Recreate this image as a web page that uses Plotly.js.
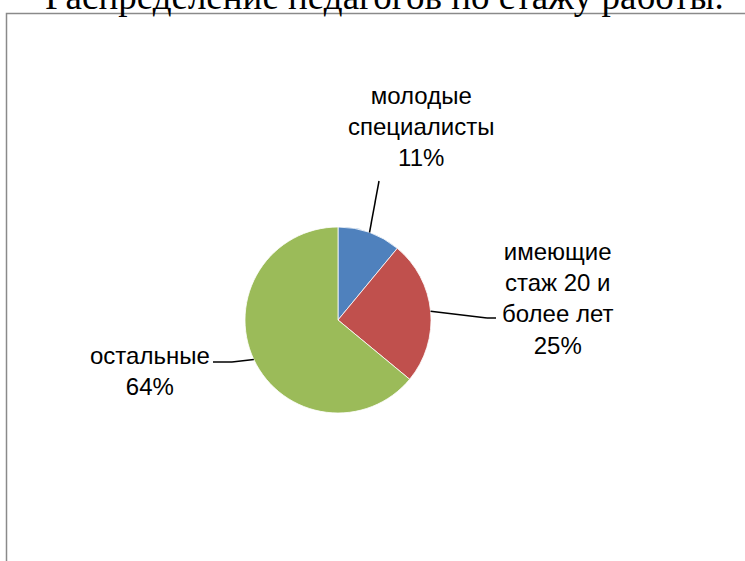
<!DOCTYPE html>
<html>
<head>
<meta charset="utf-8">
<script src="https://cdn.plot.ly/plotly-3.0.1.min.js"></script>
<style>html,body{margin:0;padding:0;background:#fff;}#chart{width:745px;height:561px;}</style>
</head>
<body>
<div id="chart"></div>
<script>
const chartTitle = "Распределение педагогов по стажу работы.";
const categories = ["молодые специалисты", "имеющие стаж 20 и более лет", "остальные"];
const labelLines = ["молодые<br>специалисты", "имеющие<br>стаж 20 и<br>более лет", "остальные"];
const values = [11, 25, 64];
const colors = ["#4F81BD", "#C0504D", "#9BBB59"];

const W = 745, H = 561;
const px = x => x / W;
const py = y => 1 - y / H;

// pie placement (pixels)
const cx = 338, cy = 320, R = 93;
const domX = [px(cx - R), px(cx + R)];
const domY = [py(cy + R), py(cy - R)];

// label centres and leader-line anchor points (pixels)
const labelPos = [[421, 127], [557, 298], [150, 371]];
const leaderPath = [
  [[379, 181]],
  [[496, 318], [487, 318]],
  [[213, 362], [232, 362]]
];

const total = values.reduce((a, b) => a + b, 0);
let cum = 0;
const annotations = [];
const shapes = [];
values.forEach((v, i) => {
  const mid = (cum + v / 2) / total;
  cum += v;
  const ang = mid * 2 * Math.PI;
  const ex = cx + R * Math.sin(ang), ey = cy - R * Math.cos(ang);
  const pct = Math.round(v / total * 100);
  annotations.push({
    xref: "paper", yref: "paper", x: px(labelPos[i][0]), y: py(labelPos[i][1]),
    xanchor: "center", yanchor: "middle", showarrow: false,
    text: labelLines[i] + "<br>" + pct + "%",
    font: {family: "Liberation Sans, Arial, sans-serif", size: 24, color: "#000"}
  });
  const pts = leaderPath[i].concat([[ex, ey]]);
  for (let k = 0; k < pts.length - 1; k++) {
    shapes.push({type: "line", xref: "paper", yref: "paper",
      x0: px(pts[k][0]), y0: py(pts[k][1]), x1: px(pts[k + 1][0]), y1: py(pts[k + 1][1]),
      line: {color: "#000", width: 1.5}});
  }
});

// outer chart frame (partially outside view)
shapes.unshift({type: "rect", xref: "paper", yref: "paper",
  x0: px(6.5), y0: py(575), x1: px(760), y1: py(13.5),
  line: {color: "#8a8a8a", width: 1.5}, fillcolor: "rgba(0,0,0,0)", layer: "below"});

annotations.push({
  xref: "paper", yref: "paper", x: px(384), y: py(19), xanchor: "center", yanchor: "bottom",
  showarrow: false, text: chartTitle,
  font: {family: "Liberation Serif, Times New Roman, serif", size: 37, color: "#000"}
});

const data = [{
  type: "pie",
  labels: categories,
  values: values,
  sort: false,
  direction: "clockwise",
  rotation: 0,
  textinfo: "none",
  hoverinfo: "label+percent",
  marker: {colors: colors, line: {color: "#ffffff", width: 0.8}},
  domain: {x: domX, y: domY},
  automargin: false
}];

const layout = {
  width: W, height: H,
  margin: {l: 0, r: 0, t: 0, b: 0},
  paper_bgcolor: "#ffffff",
  showlegend: false,
  annotations: annotations,
  shapes: shapes
};

Plotly.newPlot("chart", data, layout, {displayModeBar: false, staticPlot: true});
</script>
</body>
</html>
